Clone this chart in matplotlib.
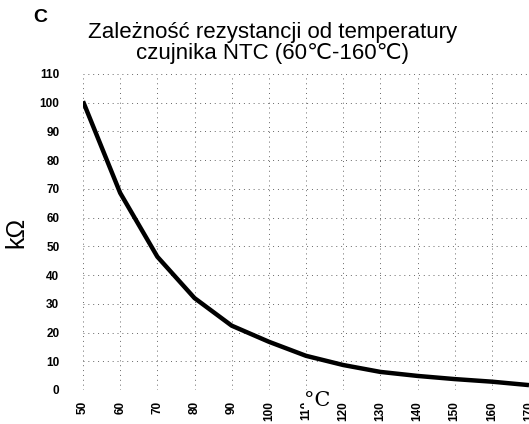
import matplotlib
matplotlib.use("Agg")
import matplotlib.pyplot as plt

# temperatura [°C] i rezystancja [kΩ]
temp = [50, 60, 70, 80, 90, 100, 110, 120, 130, 140, 150, 160, 170]
res_kohm = [100.5, 68.6, 46.4, 32.0, 22.4, 16.8, 11.9, 8.7, 6.3, 4.9, 3.8, 2.9, 1.7]

x_ticks = list(range(50, 180, 10))
y_ticks = list(range(0, 120, 10))

plt.rcParams['font.family'] = ['Liberation Sans', 'DejaVu Sans']

fig = plt.figure(figsize=(5.29, 4.24), dpi=100)
ax = fig.add_axes([83 / 529, 1 - 390 / 424, 1 - 83 / 529, (390 - 74) / 424])

ax.plot(temp, res_kohm, color="black", linewidth=3.2, solid_capstyle="butt")

ax.set_xlim(50, 170)
ax.set_ylim(0, 110)
ax.set_xticks(x_ticks)
ax.set_yticks(y_ticks)
ax.set_xticklabels([str(t) for t in x_ticks], rotation=90, fontsize=8.5, fontweight="bold")
ax.set_yticklabels([str(t) for t in y_ticks], fontsize=8.5, fontweight="bold")
ax.tick_params(axis="y", length=0, pad=17)
ax.tick_params(axis="x", length=0, pad=8)
ax.grid(True, color="black", linewidth=0.7, linestyle=(0, (1, 4)), alpha=0.6)
for s in ax.spines.values():
    s.set_visible(False)

ax.set_ylabel("kΩ", fontsize=18, labelpad=8)
ax.text(113, -0.2, "°C", family="DejaVu Serif", fontsize=15, ha="center", va="top",
        bbox=dict(facecolor="white", edgecolor="none", pad=0), zorder=5)

fig.text(0.515, 1 - 43 / 424, "Zależność rezystancji od temperatury\nczujnika NTC (60℃-160℃)",
         ha="center", va="center", fontsize=16, linespacing=0.98)
fig.text(33 / 529, 1 - 18 / 424, "C", fontsize=14, fontweight="bold", ha="left", va="center")

fig.savefig("out.png", dpi=100)
